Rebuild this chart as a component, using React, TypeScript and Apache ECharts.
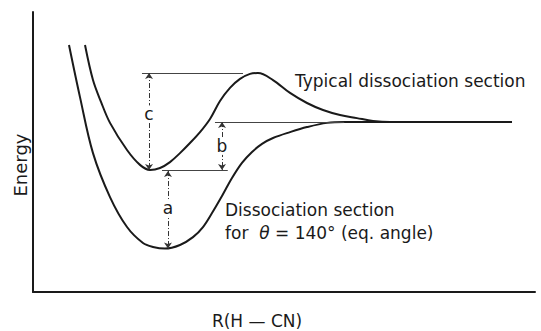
import React, { useEffect, useRef } from "react";
import * as echarts from "echarts";

// Potential-energy curves: [R, Energy] in arbitrary units (0–10)
const typicalSection: [number, number][] = [
  [1.036, 8.82], [1.195, 7.57], [1.355, 6.79], [1.534, 6.04], [1.873, 5.07],
  [2.131, 4.54], [2.331, 4.36], [2.53, 4.43], [2.729, 4.64], [2.928, 4.96],
  [3.127, 5.32], [3.327, 5.71], [3.526, 6.18], [3.725, 6.82], [3.924, 7.29],
  [4.124, 7.61], [4.323, 7.79], [4.482, 7.82], [4.781, 7.57], [5.12, 7.11],
  [5.458, 6.75], [5.777, 6.5], [6.116, 6.32], [6.454, 6.21], [6.773, 6.11],
  [7.112, 6.07], [7.908, 6.07], [9.542, 6.07],
];

const eqAngleSection: [number, number][] = [
  [0.717, 8.82], [0.936, 6.96], [1.195, 4.96], [1.534, 3.39], [1.873, 2.32],
  [2.191, 1.75], [2.39, 1.61], [2.629, 1.55], [2.928, 1.68], [3.187, 1.96],
  [3.386, 2.32], [3.566, 2.82], [3.765, 3.43], [3.964, 4.07], [4.163, 4.61],
  [4.363, 5.0], [4.562, 5.29], [4.781, 5.5], [5.12, 5.71], [5.458, 5.89],
  [5.857, 6.04], [6.215, 6.07], [7.311, 6.07],
];

// Energy levels used by the annotations
const PEAK_E = 7.82;
const PLATEAU_E = 6.07;
const UPPER_MIN_E = 4.36;
const LOWER_MIN_E = 1.55;

// Thin horizontal guide lines: [R start, R end, Energy]
const guideLines: [number, number, number][] = [
  [2.171, 4.183, PEAK_E],
  [3.625, 6.2, PLATEAU_E],
  [2.57, 3.88, UPPER_MIN_E],
];

// Double-headed arrows: [label, R, Energy from, Energy to, label Energy]
const arrows: [string, number, number, number, number][] = [
  ["c", 2.311, PEAK_E, UPPER_MIN_E, 6.36],
  ["b", 3.765, PLATEAU_E, UPPER_MIN_E, 5.2],
  ["a", 2.689, 4.32, LOWER_MIN_E, 3.0],
];

const FONT = '"DejaVu Sans", "Liberation Sans", sans-serif';
const INK = "#1a1a1a";

export default function App() {
  const ref = useRef<HTMLDivElement>(null);

  useEffect(() => {
    document.body.style.margin = "0";
    if (!ref.current) return;
    const chart = echarts.init(ref.current, null, { renderer: "svg" });

    const axisCommon = {
      type: "value" as const,
      min: 0,
      max: 10,
      axisLine: { show: true, lineStyle: { color: INK, width: 2 } },
      axisTick: { show: false },
      axisLabel: { show: false },
      splitLine: { show: false },
    };

    chart.setOption({
      animation: false,
      backgroundColor: "#fff",
      grid: { left: 33, right: 6, top: 12, bottom: 39 },
      xAxis: axisCommon,
      yAxis: axisCommon,
      series: [
        {
          name: "Typical dissociation section",
          type: "line",
          data: typicalSection,
          smooth: 0.35,
          showSymbol: false,
          symbol: "none",
          lineStyle: { color: INK, width: 2 },
          markLine: {
            silent: true,
            symbol: "none",
            label: { show: false },
            lineStyle: { color: "#444", width: 1, type: "solid" },
            data: guideLines.map(([r1, r2, e]) => [
              { coord: [r1, e] },
              { coord: [r2, e] },
            ]),
          },
        },
        {
          name: "Dissociation section for θ = 140°",
          type: "line",
          data: eqAngleSection,
          smooth: 0.35,
          showSymbol: false,
          symbol: "none",
          lineStyle: { color: INK, width: 2 },
          markLine: {
            silent: true,
            symbol: ["arrow", "arrow"],
            symbolSize: 6,
            label: { show: false },
            lineStyle: { color: "#333", width: 1, type: [5, 2, 1, 2] },
            data: arrows.map(([, r, e1, e2]) => [
              { coord: [r, e1] },
              { coord: [r, e2] },
            ]),
          },
          markPoint: {
            silent: true,
            symbol: "rect",
            symbolSize: [12, 17],
            itemStyle: { color: "#fff" },
            label: {
              show: true,
              position: "inside",
              formatter: "{b}",
              fontFamily: FONT,
              fontSize: 17,
              color: INK,
            },
            data: arrows.map(([name, r, , , le]) => ({ name, coord: [r, le] })),
          },
        },
      ],
      graphic: [
        {
          type: "text",
          x: 295,
          y: 81,
          style: {
            text: "Typical dissociation section",
            fontFamily: FONT,
            fontSize: 17,
            fill: INK,
            align: "left",
            verticalAlign: "middle",
          },
        },
        {
          type: "text",
          x: 225,
          y: 210,
          style: {
            text: "Dissociation section",
            fontFamily: FONT,
            fontSize: 17,
            fill: INK,
            align: "left",
            verticalAlign: "middle",
          },
        },
        {
          type: "text",
          x: 225,
          y: 233,
          style: {
            text: "for  {i|θ} = 140° (eq. angle)",
            fontFamily: FONT,
            fontSize: 17,
            fill: INK,
            align: "left",
            verticalAlign: "middle",
            rich: {
              i: { fontFamily: FONT, fontSize: 17, fontStyle: "italic", fill: INK },
            },
          },
        },
        {
          type: "text",
          x: 20,
          y: 165,
          rotation: Math.PI / 2,
          style: {
            text: "Energy",
            fontFamily: FONT,
            fontSize: 18,
            fill: INK,
            align: "center",
            verticalAlign: "middle",
          },
        },
        {
          type: "text",
          x: 257,
          y: 321,
          style: {
            text: "R(H — CN)",
            fontFamily: FONT,
            fontSize: 17,
            fill: INK,
            align: "center",
            verticalAlign: "middle",
          },
        },
      ],
    });

    return () => chart.dispose();
  }, []);

  return <div ref={ref} style={{ width: 541, height: 331 }} />;
}
